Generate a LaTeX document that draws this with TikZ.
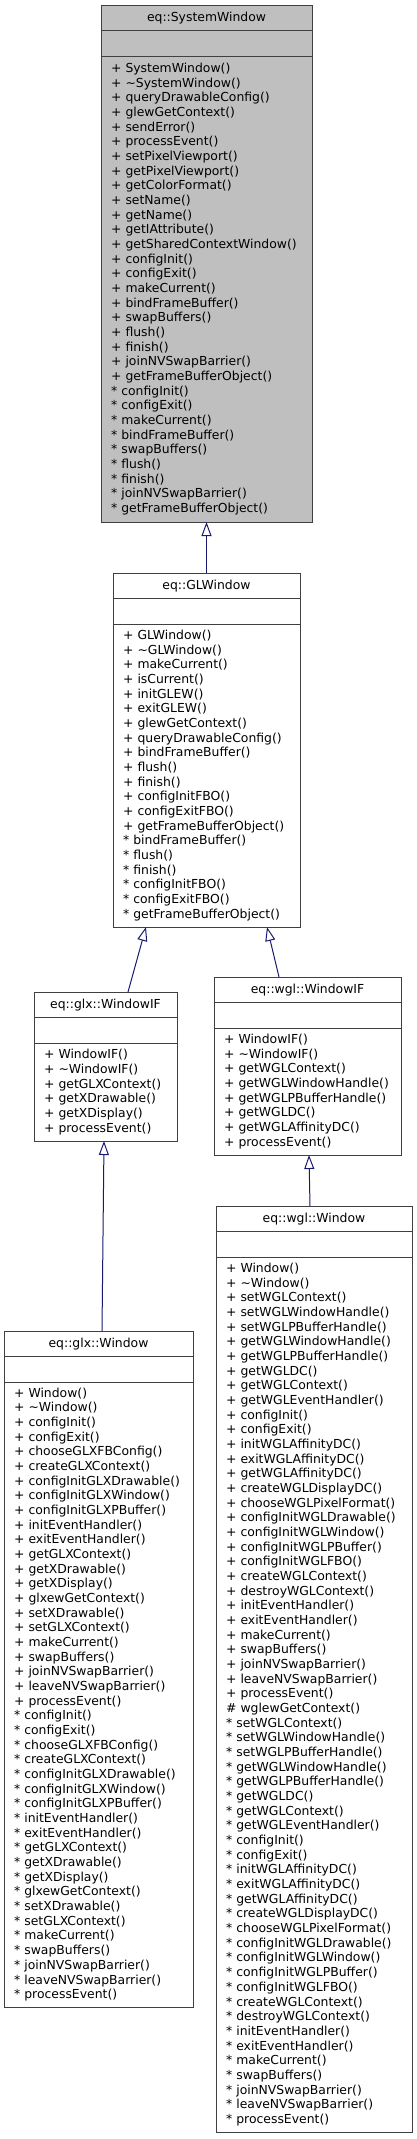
\documentclass[tikz,border=0pt]{standalone}
\usepackage{fontspec}
\setmainfont{DejaVu Sans}
\usepackage{xcolor}
\usepackage{tikz}
\usetikzlibrary{arrows.meta,positioning}
\definecolor{edgeBlue}{HTML}{191970}

\begin{document}
\begin{tikzpicture}[
			x=1pt,
			y=-1pt,
			% Class compartments
			classTitle/.style={
				rectangle,
				draw=black!75,
				line width=1pt,
				fill=white,
				anchor=north,
				outer sep=0pt,
				inner sep=0pt,
				minimum height=25.5pt,
				font=\fontsize{12.4}{14.67}\selectfont
			},
			classAttr/.style={
				classTitle
			},
			classOps/.style={
				rectangle,
				draw=black!75,
				line width=1pt,
				fill=white,
				anchor=north,
				outer sep=0pt,
				inner xsep=10pt,
				inner ysep=0pt,
				align=left,
				execute at begin node={\hyphenpenalty=10000\exhyphenpenalty=10000},
				font=\fontsize{12.4}{14.67}\selectfont
			},
			baseClass/.style={
				fill=gray!50
			},
			inherit/.style={
				-{Triangle[open,length=14pt,width=10pt]},
				edgeBlue,
				line width=1pt
			}
			]
			
			\useasboundingbox (0,0) rectangle (417,2139);
			
			% eq::SystemWindow (highlighted base class)
			\node[
			classTitle,
			baseClass,
			minimum width=211pt
			] (swTitle) at (206.5,5)
			{eq::SystemWindow};
			
			\node[
			classAttr,
			baseClass,
			minimum width=211pt,
			below=0pt of swTitle
			] (swAttr) {};
			
			\node[
			classOps,
			baseClass,
			text width=191pt,
			minimum height=466pt,
			below=0pt of swAttr
			] (swOps)
			{+~SystemWindow()\\
				+~\textasciitilde SystemWindow()\\
				+~queryDrawableConfig()\\
				+~glewGetContext()\\
				+~sendError()\\
				+~processEvent()\\
				+~setPixelViewport()\\
				+~getPixelViewport()\\
				+~getColorFormat()\\
				+~setName()\\
				+~getName()\\
				+~getIAttribute()\\
				+~getSharedContextWindow()\\
				+~configInit()\\
				+~configExit()\\
				+~makeCurrent()\\
				+~bindFrameBuffer()\\
				+~swapBuffers()\\
				+~flush()\\
				+~finish()\\
				+~joinNVSwapBarrier()\\
				+~getFrameBufferObject()\\
				{*}~configInit()\\
				{*}~configExit()\\
				{*}~makeCurrent()\\
				{*}~bindFrameBuffer()\\
				{*}~swapBuffers()\\
				{*}~flush()\\
				{*}~finish()\\
				{*}~joinNVSwapBarrier()\\
				{*}~getFrameBufferObject()};
			
			% eq::GLWindow
			\node[
			classTitle,
			minimum width=187pt
			] (glwTitle) at (206.5,573)
			{eq::GLWindow};
			
			\node[
			classAttr,
			minimum width=187pt,
			below=0pt of glwTitle
			] (glwAttr) {};
			
			\node[
			classOps,
			text width=167pt,
			minimum height=303pt,
			below=0pt of glwAttr
			] (glwOps)
			{+~GLWindow()\\
				+~\textasciitilde GLWindow()\\
				+~makeCurrent()\\
				+~isCurrent()\\
				+~initGLEW()\\
				+~exitGLEW()\\
				+~glewGetContext()\\
				+~queryDrawableConfig()\\
				+~bindFrameBuffer()\\
				+~flush()\\
				+~finish()\\
				+~configInitFBO()\\
				+~configExitFBO()\\
				+~getFrameBufferObject()\\
				{*}~bindFrameBuffer()\\
				{*}~flush()\\
				{*}~finish()\\
				{*}~configInitFBO()\\
				{*}~configExitFBO()\\
				{*}~getFrameBufferObject()};
			
			% eq::glx::WindowIF
			\node[
			classTitle,
			minimum width=143pt
			] (glxifTitle) at (105.5,992)
			{eq::glx::WindowIF};
			
			\node[
			classAttr,
			minimum width=143pt,
			below=0pt of glxifTitle
			] (glxifAttr) {};
			
			\node[
			classOps,
			text width=123pt,
			minimum height=98pt,
			below=0pt of glxifAttr
			] (glxifOps)
			{+~WindowIF()\\
				+~\textasciitilde WindowIF()\\
				+~getGLXContext()\\
				+~getXDrawable()\\
				+~getXDisplay()\\
				+~processEvent()};
			
			% eq::wgl::WindowIF
			\node[
			classTitle,
			minimum width=187pt
			] (wglifTitle) at (307.5,977)
			{eq::wgl::WindowIF};
			
			\node[
			classAttr,
			minimum width=187pt,
			below=0pt of wglifTitle
			] (wglifAttr) {};
			
			\node[
			classOps,
			text width=167pt,
			minimum height=127pt,
			below=0pt of wglifAttr
			] (wglifOps)
			{+~WindowIF()\\
				+~\textasciitilde WindowIF()\\
				+~getWGLContext()\\
				+~getWGLWindowHandle()\\
				+~getWGLPBufferHandle()\\
				+~getWGLDC()\\
				+~getWGLAffinityDC()\\
				+~processEvent()};
			
			% eq::glx::Window
			\node[
			classTitle,
			minimum width=189pt
			] (glxwTitle) at (98.5,1331)
			{eq::glx::Window};
			
			\node[
			classAttr,
			minimum width=189pt,
			below=0pt of glxwTitle
			] (glxwAttr) {};
			
			\node[
			classOps,
			text width=169pt,
			minimum height=625pt,
			below=0pt of glxwAttr
			] (glxwOps)
			{+~Window()\\
				+~\textasciitilde Window()\\
				+~configInit()\\
				+~configExit()\\
				+~chooseGLXFBConfig()\\
				+~createGLXContext()\\
				+~configInitGLXDrawable()\\
				+~configInitGLXWindow()\\
				+~configInitGLXPBuffer()\\
				+~initEventHandler()\\
				+~exitEventHandler()\\
				+~getGLXContext()\\
				+~getXDrawable()\\
				+~getXDisplay()\\
				+~glxewGetContext()\\
				+~setXDrawable()\\
				+~setGLXContext()\\
				+~makeCurrent()\\
				+~swapBuffers()\\
				+~joinNVSwapBarrier()\\
				+~leaveNVSwapBarrier()\\
				+~processEvent()\\
				{*}~configInit()\\
				{*}~configExit()\\
				{*}~chooseGLXFBConfig()\\
				{*}~createGLXContext()\\
				{*}~configInitGLXDrawable()\\
				{*}~configInitGLXWindow()\\
				{*}~configInitGLXPBuffer()\\
				{*}~initEventHandler()\\
				{*}~exitEventHandler()\\
				{*}~getGLXContext()\\
				{*}~getXDrawable()\\
				{*}~getXDisplay()\\
				{*}~glxewGetContext()\\
				{*}~setXDrawable()\\
				{*}~setGLXContext()\\
				{*}~makeCurrent()\\
				{*}~swapBuffers()\\
				{*}~joinNVSwapBarrier()\\
				{*}~leaveNVSwapBarrier()\\
				{*}~processEvent()};
			
			% eq::wgl::Window
			\node[
			classTitle,
			minimum width=196pt
			] (wglwTitle) at (314,1206)
			{eq::wgl::Window};
			
			\node[
			classAttr,
			minimum width=196pt,
			below=0pt of wglwTitle
			] (wglwAttr) {};
			
			\node[
			classOps,
			text width=176pt,
			minimum height=875pt,
			below=0pt of wglwAttr
			] (wglwOps)
			{+~Window()\\
				+~\textasciitilde Window()\\
				+~setWGLContext()\\
				+~setWGLWindowHandle()\\
				+~setWGLPBufferHandle()\\
				+~getWGLWindowHandle()\\
				+~getWGLPBufferHandle()\\
				+~getWGLDC()\\
				+~getWGLContext()\\
				+~getWGLEventHandler()\\
				+~configInit()\\
				+~configExit()\\
				+~initWGLAffinityDC()\\
				+~exitWGLAffinityDC()\\
				+~getWGLAffinityDC()\\
				+~createWGLDisplayDC()\\
				+~chooseWGLPixelFormat()\\
				+~configInitWGLDrawable()\\
				+~configInitWGLWindow()\\
				+~configInitWGLPBuffer()\\
				+~configInitWGLFBO()\\
				+~createWGLContext()\\
				+~destroyWGLContext()\\
				+~initEventHandler()\\
				+~exitEventHandler()\\
				+~makeCurrent()\\
				+~swapBuffers()\\
				+~joinNVSwapBarrier()\\
				+~leaveNVSwapBarrier()\\
				+~processEvent()\\
				\#~wglewGetContext()\\
				{*}~setWGLContext()\\
				{*}~setWGLWindowHandle()\\
				{*}~setWGLPBufferHandle()\\
				{*}~getWGLWindowHandle()\\
				{*}~getWGLPBufferHandle()\\
				{*}~getWGLDC()\\
				{*}~getWGLContext()\\
				{*}~getWGLEventHandler()\\
				{*}~configInit()\\
				{*}~configExit()\\
				{*}~initWGLAffinityDC()\\
				{*}~exitWGLAffinityDC()\\
				{*}~getWGLAffinityDC()\\
				{*}~createWGLDisplayDC()\\
				{*}~chooseWGLPixelFormat()\\
				{*}~configInitWGLDrawable()\\
				{*}~configInitWGLWindow()\\
				{*}~configInitWGLPBuffer()\\
				{*}~configInitWGLFBO()\\
				{*}~createWGLContext()\\
				{*}~destroyWGLContext()\\
				{*}~initEventHandler()\\
				{*}~exitEventHandler()\\
				{*}~makeCurrent()\\
				{*}~swapBuffers()\\
				{*}~joinNVSwapBarrier()\\
				{*}~leaveNVSwapBarrier()\\
				{*}~processEvent()};
			
			% Inheritance edges (child to parent)
			\draw[inherit] (glwTitle.north) -- (swOps.south);
			\draw[inherit] ([xshift=22.5pt]glxifTitle.north) -- ([xshift=-60.5pt]glwOps.south);
			\draw[inherit] ([xshift=-28.5pt]wglifTitle.north) -- ([xshift=60.5pt]glwOps.south);
			\draw[inherit] ([xshift=3.5pt]glxwTitle.north) -- ([xshift=-1.5pt]glxifOps.south);
			\draw[inherit] ([xshift=-4pt]wglwTitle.north) -- ([xshift=1.5pt]wglifOps.south);
			
		\end{tikzpicture}
\end{document}
